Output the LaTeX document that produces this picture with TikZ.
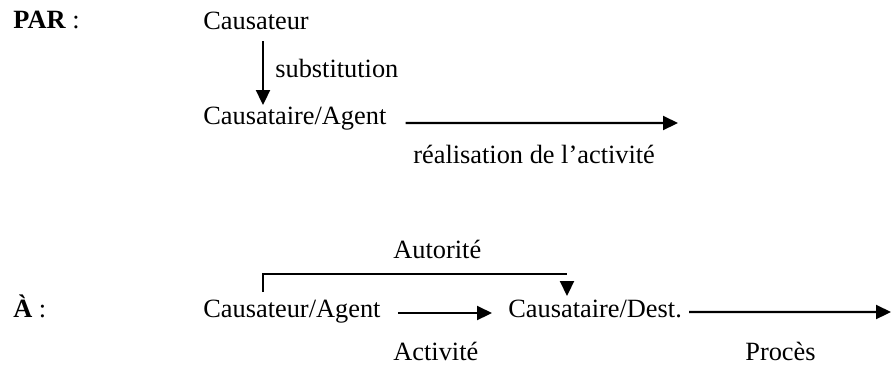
\documentclass[tikz,border=0pt]{standalone}
\usepackage{fontspec}
\setmainfont{Liberation Serif}
\usepackage{tikz}
\usetikzlibrary{arrows.meta,calc}

\begin{document}
\begin{tikzpicture}[
  lbl/.style={anchor=base west,inner sep=0pt,font=\fontsize{15}{18}\selectfont},
  arr/.style={line width=1.2pt,-{Triangle[length=0.3cm,width=0.28cm]}},
  brk/.style={line width=0.8pt}
]
  \useasboundingbox (0,0) rectangle (17.82,-7.38);
  % PAR
  \node[lbl] (par) at (0.26,-0.57) {\textbf{PAR} :};
  \node[lbl] (causA) at (4.06,-0.58) {Causateur};
  \node[lbl] (subst) at (5.50,-1.54) {substitution};
  \node[lbl] (cataA) at (4.06,-2.48) {Causataire/Agent};
  \node[lbl] (real) at (8.26,-3.26) {réalisation de l’activité};
  \coordinate (realEnd) at (13.56,-2.46);
  \draw[arr,line width=1.3pt] ($(causA.base west)+(1.2,-0.24)$) -- ($(cataA.base west)+(1.2,0.38)$);
  \draw[arr] ($(cataA.base east)+(0.38,0.02)$) -- (realEnd);
  % A
  \node[lbl] (autor) at (7.86,-5.16) {Autorité};
  \node[lbl] (a) at (0.26,-6.34) {\textbf{À} :};
  \node[lbl] (causB) at (4.06,-6.34) {Causateur/Agent};
  \node[lbl] (cataB) at (10.16,-6.34) {Causataire/Dest.};
  \node[lbl] (activ) at (7.86,-7.2) {Activité};
  \node[lbl] (proces) at (14.90,-7.2) {Procès};
  \coordinate (procEnd) at (17.82,-6.24);
  \draw[brk] ($(causB.base west)+(1.2,0.5)$) |- ($(cataB.base west)+(1.18,0.86)$);
  \draw[arr] ($(cataB.base west)+(1.18,0.70)$) -- ($(cataB.base west)+(1.18,0.42)$);
  \draw[arr] ($(causB.base east)+(0.34,0.08)$) -- ($(cataB.base west)+(-0.32,0.08)$);
  \draw[arr] ($(cataB.base east)+(0.14,0.10)$) -- (procEnd);
\end{tikzpicture}
\end{document}
